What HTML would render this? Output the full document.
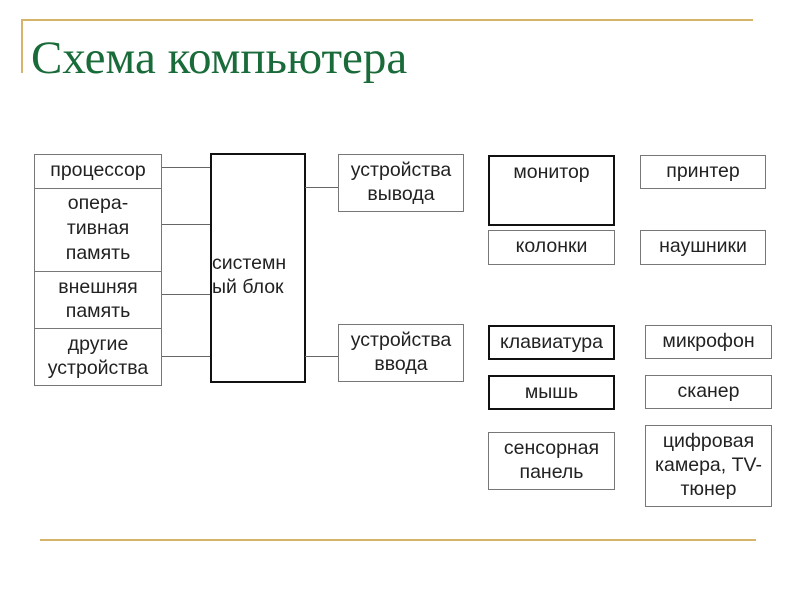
<!DOCTYPE html>
<html><head><meta charset="utf-8"><style>
body{margin:0;width:800px;height:600px;background:#fff;position:relative;overflow:hidden;font-family:"Liberation Sans",sans-serif}
.b{position:absolute;box-sizing:border-box;border:1px solid #777;background:#fff;text-align:center;font-size:19.5px;line-height:24px;color:#222;padding-top:3px;white-space:nowrap}
.t{border:2px solid #111}
.l{position:absolute;height:1px;background:#666}
</style></head><body>
<div style="position:absolute;left:22px;top:19px;width:731px;height:2px;background:#d6b56a"></div>
<div style="position:absolute;left:21px;top:19px;width:2px;height:54px;background:#d6b56a"></div>
<div style="position:absolute;left:40px;top:539px;width:716px;height:2px;background:#d6b56a"></div>
<div style="position:absolute;left:31px;top:30px;font-family:'Liberation Serif',serif;font-size:47px;color:#1a6b3a;line-height:56px">Схема компьютера</div>

<div class="b" style="left:34px;top:154px;width:128px;height:35px">процессор</div>
<div class="b" style="left:34px;top:188px;width:128px;height:84px;line-height:25px;padding-top:2px">опера-<br>тивная<br>память</div>
<div class="b" style="left:34px;top:271px;width:128px;height:58px">внешняя<br>память</div>
<div class="b" style="left:34px;top:328px;width:128px;height:58px">другие<br>устройства</div>
<div class="l" style="left:162px;top:167px;width:48px"></div>
<div class="l" style="left:162px;top:224px;width:48px"></div>
<div class="l" style="left:162px;top:294px;width:48px"></div>
<div class="l" style="left:162px;top:356px;width:48px"></div>
<div class="b t" style="left:210px;top:153px;width:96px;height:230px;text-align:left;padding:96px 0 0 0;">системн<br>ый блок</div>
<div class="l" style="left:305px;top:187px;width:33px"></div>
<div class="l" style="left:305px;top:356px;width:33px"></div>
<div class="b" style="left:338px;top:154px;width:126px;height:58px">устройства<br>вывода</div>
<div class="b" style="left:338px;top:324px;width:126px;height:58px">устройства<br>ввода</div>

<div class="b t" style="left:488px;top:155px;width:127px;height:71px">монитор</div>
<div class="b" style="left:640px;top:155px;width:126px;height:34px">принтер</div>
<div class="b" style="left:488px;top:230px;width:127px;height:35px">колонки</div>
<div class="b" style="left:640px;top:230px;width:126px;height:35px">наушники</div>
<div class="b t" style="left:488px;top:325px;width:127px;height:35px">клавиатура</div>
<div class="b" style="left:645px;top:325px;width:127px;height:34px">микрофон</div>
<div class="b t" style="left:488px;top:375px;width:127px;height:35px">мышь</div>
<div class="b" style="left:645px;top:375px;width:127px;height:34px">сканер</div>
<div class="b" style="left:488px;top:432px;width:127px;height:58px">сенсорная<br>панель</div>
<div class="b" style="left:645px;top:425px;width:127px;height:82px">цифровая<br>камера, TV-<br>тюнер</div>
</body></html>
